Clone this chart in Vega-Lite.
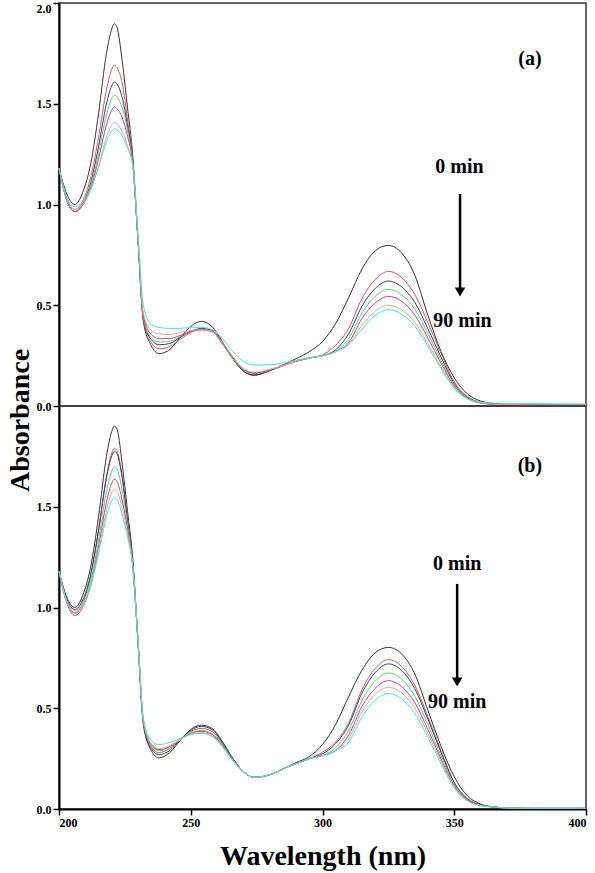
{
"$schema": "https://vega.github.io/schema/vega-lite/v6.json",
"background": "white",
"padding": {"left": 5, "top": 1, "right": 0, "bottom": 0},
"spacing": 0,
"bounds": "flush",
"config": {
 "view": {"stroke": "#333333", "strokeWidth": 1.5},
 "axis": {"labelFont": "Liberation Serif", "labelFontWeight": "bold", "labelFontSize": 12, "labelColor": "black", "titleFont": "Liberation Serif", "titleFontWeight": "bold", "titleFontSize": 28, "titleColor": "black", "domainColor": "black", "domainWidth": 2, "tickColor": "black", "tickWidth": 1.5, "tickSize": 6, "labelPadding": 2, "grid": false},
 "line": {"strokeWidth": 1, "interpolate": "monotone"},
 "text": {"font": "Liberation Serif", "fontWeight": "bold", "fontSize": 20, "color": "black"}
},
"datasets": {
"specA": [
{"t":0,"w":200,"a":1.18},{"t":0,"w":203,"a":1.05},{"t":0,"w":206,"a":1.0},{"t":0,"w":209,"a":1.06},{"t":0,"w":212,"a":1.2},{"t":0,"w":215,"a":1.45},{"t":0,"w":218,"a":1.75},{"t":0,"w":220,"a":1.87},{"t":0,"w":221,"a":1.897},{"t":0,"w":222,"a":1.88},{"t":0,"w":224,"a":1.71},{"t":0,"w":226,"a":1.48},{"t":0,"w":228,"a":1.24},{"t":0,"w":230,"a":0.82},{"t":0,"w":232,"a":0.42},{"t":0,"w":235,"a":0.3},{"t":0,"w":238,"a":0.26},{"t":0,"w":242,"a":0.28},{"t":0,"w":246,"a":0.34},{"t":0,"w":250,"a":0.395},{"t":0,"w":254,"a":0.42},{"t":0,"w":258,"a":0.395},{"t":0,"w":262,"a":0.32},{"t":0,"w":266,"a":0.235},{"t":0,"w":270,"a":0.172},{"t":0,"w":274,"a":0.152},{"t":0,"w":280,"a":0.175},{"t":0,"w":286,"a":0.21},{"t":0,"w":290,"a":0.235},{"t":0,"w":295,"a":0.27},{"t":0,"w":300,"a":0.32},{"t":0,"w":305,"a":0.41},{"t":0,"w":310,"a":0.54},{"t":0,"w":315,"a":0.68},{"t":0,"w":320,"a":0.77},{"t":0,"w":325,"a":0.797},{"t":0,"w":330,"a":0.76},{"t":0,"w":335,"a":0.65},{"t":0,"w":340,"a":0.45},{"t":0,"w":345,"a":0.27},{"t":0,"w":350,"a":0.14},{"t":0,"w":355,"a":0.06},{"t":0,"w":360,"a":0.025},{"t":0,"w":365,"a":0.012},{"t":0,"w":370,"a":0.008},{"t":0,"w":380,"a":0.005},{"t":0,"w":400,"a":0.005},
{"t":15,"w":200,"a":1.18},{"t":15,"w":203,"a":1.03},{"t":15,"w":206,"a":0.975},{"t":15,"w":209,"a":1.018},{"t":15,"w":212,"a":1.133},{"t":15,"w":215,"a":1.333},{"t":15,"w":218,"a":1.569},{"t":15,"w":220,"a":1.67},{"t":15,"w":221,"a":1.691},{"t":15,"w":222,"a":1.68},{"t":15,"w":224,"a":1.6},{"t":15,"w":226,"a":1.42},{"t":15,"w":228,"a":1.22},{"t":15,"w":230,"a":0.82},{"t":15,"w":232,"a":0.43},{"t":15,"w":235,"a":0.315},{"t":15,"w":238,"a":0.284},{"t":15,"w":242,"a":0.295},{"t":15,"w":246,"a":0.33},{"t":15,"w":250,"a":0.365},{"t":15,"w":254,"a":0.38},{"t":15,"w":258,"a":0.37},{"t":15,"w":262,"a":0.31},{"t":15,"w":266,"a":0.235},{"t":15,"w":270,"a":0.18},{"t":15,"w":274,"a":0.165},{"t":15,"w":280,"a":0.18},{"t":15,"w":286,"a":0.205},{"t":15,"w":290,"a":0.222},{"t":15,"w":295,"a":0.238},{"t":15,"w":300,"a":0.254},{"t":15,"w":305,"a":0.301},{"t":15,"w":310,"a":0.387},{"t":15,"w":315,"a":0.534},{"t":15,"w":320,"a":0.628},{"t":15,"w":325,"a":0.668},{"t":15,"w":330,"a":0.638},{"t":15,"w":335,"a":0.554},{"t":15,"w":340,"a":0.414},{"t":15,"w":345,"a":0.261},{"t":15,"w":350,"a":0.12},{"t":15,"w":355,"a":0.047},{"t":15,"w":360,"a":0.019},{"t":15,"w":365,"a":0.01},{"t":15,"w":370,"a":0.006},{"t":15,"w":380,"a":0.005},{"t":15,"w":400,"a":0.005},
{"t":30,"w":200,"a":1.18},{"t":30,"w":203,"a":1.02},{"t":30,"w":206,"a":0.965},{"t":30,"w":209,"a":1.004},{"t":30,"w":212,"a":1.106},{"t":30,"w":215,"a":1.287},{"t":30,"w":218,"a":1.499},{"t":30,"w":220,"a":1.589},{"t":30,"w":221,"a":1.608},{"t":30,"w":222,"a":1.598},{"t":30,"w":224,"a":1.53},{"t":30,"w":226,"a":1.39},{"t":30,"w":228,"a":1.21},{"t":30,"w":230,"a":0.82},{"t":30,"w":232,"a":0.435},{"t":30,"w":235,"a":0.33},{"t":30,"w":238,"a":0.304},{"t":30,"w":242,"a":0.31},{"t":30,"w":246,"a":0.34},{"t":30,"w":250,"a":0.37},{"t":30,"w":254,"a":0.385},{"t":30,"w":258,"a":0.375},{"t":30,"w":262,"a":0.315},{"t":30,"w":266,"a":0.235},{"t":30,"w":270,"a":0.175},{"t":30,"w":274,"a":0.155},{"t":30,"w":280,"a":0.175},{"t":30,"w":286,"a":0.205},{"t":30,"w":290,"a":0.222},{"t":30,"w":295,"a":0.238},{"t":30,"w":300,"a":0.25},{"t":30,"w":305,"a":0.279},{"t":30,"w":310,"a":0.36},{"t":30,"w":315,"a":0.496},{"t":30,"w":320,"a":0.583},{"t":30,"w":325,"a":0.62},{"t":30,"w":330,"a":0.592},{"t":30,"w":335,"a":0.515},{"t":30,"w":340,"a":0.384},{"t":30,"w":345,"a":0.242},{"t":30,"w":350,"a":0.112},{"t":30,"w":355,"a":0.043},{"t":30,"w":360,"a":0.017},{"t":30,"w":365,"a":0.009},{"t":30,"w":370,"a":0.006},{"t":30,"w":380,"a":0.005},{"t":30,"w":400,"a":0.005},
{"t":45,"w":200,"a":1.18},{"t":45,"w":203,"a":1.02},{"t":45,"w":206,"a":0.965},{"t":45,"w":209,"a":1.0},{"t":45,"w":212,"a":1.092},{"t":45,"w":215,"a":1.254},{"t":45,"w":218,"a":1.444},{"t":45,"w":220,"a":1.525},{"t":45,"w":221,"a":1.542},{"t":45,"w":222,"a":1.533},{"t":45,"w":224,"a":1.48},{"t":45,"w":226,"a":1.37},{"t":45,"w":228,"a":1.2},{"t":45,"w":230,"a":0.82},{"t":45,"w":232,"a":0.44},{"t":45,"w":235,"a":0.34},{"t":45,"w":238,"a":0.318},{"t":45,"w":242,"a":0.32},{"t":45,"w":246,"a":0.345},{"t":45,"w":250,"a":0.37},{"t":45,"w":254,"a":0.38},{"t":45,"w":258,"a":0.37},{"t":45,"w":262,"a":0.31},{"t":45,"w":266,"a":0.235},{"t":45,"w":270,"a":0.18},{"t":45,"w":274,"a":0.16},{"t":45,"w":280,"a":0.178},{"t":45,"w":286,"a":0.205},{"t":45,"w":290,"a":0.222},{"t":45,"w":295,"a":0.238},{"t":45,"w":300,"a":0.25},{"t":45,"w":305,"a":0.27},{"t":45,"w":310,"a":0.336},{"t":45,"w":315,"a":0.463},{"t":45,"w":320,"a":0.544},{"t":45,"w":325,"a":0.579},{"t":45,"w":330,"a":0.553},{"t":45,"w":335,"a":0.481},{"t":45,"w":340,"a":0.359},{"t":45,"w":345,"a":0.226},{"t":45,"w":350,"a":0.104},{"t":45,"w":355,"a":0.041},{"t":45,"w":360,"a":0.016},{"t":45,"w":365,"a":0.009},{"t":45,"w":370,"a":0.006},{"t":45,"w":380,"a":0.005},{"t":45,"w":400,"a":0.005},
{"t":60,"w":200,"a":1.18},{"t":60,"w":203,"a":1.02},{"t":60,"w":206,"a":0.965},{"t":60,"w":209,"a":0.996},{"t":60,"w":212,"a":1.079},{"t":60,"w":215,"a":1.225},{"t":60,"w":218,"a":1.396},{"t":60,"w":220,"a":1.468},{"t":60,"w":221,"a":1.484},{"t":60,"w":222,"a":1.476},{"t":60,"w":224,"a":1.43},{"t":60,"w":226,"a":1.34},{"t":60,"w":228,"a":1.2},{"t":60,"w":230,"a":0.82},{"t":60,"w":232,"a":0.45},{"t":60,"w":235,"a":0.355},{"t":60,"w":238,"a":0.334},{"t":60,"w":242,"a":0.335},{"t":60,"w":246,"a":0.35},{"t":60,"w":250,"a":0.37},{"t":60,"w":254,"a":0.378},{"t":60,"w":258,"a":0.37},{"t":60,"w":262,"a":0.31},{"t":60,"w":266,"a":0.24},{"t":60,"w":270,"a":0.182},{"t":60,"w":274,"a":0.163},{"t":60,"w":280,"a":0.18},{"t":60,"w":286,"a":0.205},{"t":60,"w":290,"a":0.222},{"t":60,"w":295,"a":0.238},{"t":60,"w":300,"a":0.25},{"t":60,"w":305,"a":0.27},{"t":60,"w":310,"a":0.316},{"t":60,"w":315,"a":0.435},{"t":60,"w":320,"a":0.511},{"t":60,"w":325,"a":0.544},{"t":60,"w":330,"a":0.52},{"t":60,"w":335,"a":0.452},{"t":60,"w":340,"a":0.337},{"t":60,"w":345,"a":0.212},{"t":60,"w":350,"a":0.098},{"t":60,"w":355,"a":0.038},{"t":60,"w":360,"a":0.015},{"t":60,"w":365,"a":0.009},{"t":60,"w":370,"a":0.006},{"t":60,"w":380,"a":0.005},{"t":60,"w":400,"a":0.005},
{"t":75,"w":200,"a":1.18},{"t":75,"w":203,"a":1.025},{"t":75,"w":206,"a":0.975},{"t":75,"w":209,"a":1.001},{"t":75,"w":212,"a":1.07},{"t":75,"w":215,"a":1.19},{"t":75,"w":218,"a":1.333},{"t":75,"w":220,"a":1.393},{"t":75,"w":221,"a":1.406},{"t":75,"w":222,"a":1.4},{"t":75,"w":224,"a":1.36},{"t":75,"w":226,"a":1.29},{"t":75,"w":228,"a":1.19},{"t":75,"w":230,"a":0.83},{"t":75,"w":232,"a":0.46},{"t":75,"w":235,"a":0.375},{"t":75,"w":238,"a":0.358},{"t":75,"w":242,"a":0.355},{"t":75,"w":246,"a":0.365},{"t":75,"w":250,"a":0.375},{"t":75,"w":254,"a":0.378},{"t":75,"w":258,"a":0.37},{"t":75,"w":262,"a":0.315},{"t":75,"w":266,"a":0.245},{"t":75,"w":270,"a":0.185},{"t":75,"w":274,"a":0.168},{"t":75,"w":280,"a":0.182},{"t":75,"w":286,"a":0.205},{"t":75,"w":290,"a":0.222},{"t":75,"w":295,"a":0.238},{"t":75,"w":300,"a":0.25},{"t":75,"w":305,"a":0.27},{"t":75,"w":310,"a":0.31},{"t":75,"w":315,"a":0.4},{"t":75,"w":320,"a":0.47},{"t":75,"w":325,"a":0.5},{"t":75,"w":330,"a":0.478},{"t":75,"w":335,"a":0.415},{"t":75,"w":340,"a":0.31},{"t":75,"w":345,"a":0.195},{"t":75,"w":350,"a":0.09},{"t":75,"w":355,"a":0.035},{"t":75,"w":360,"a":0.014},{"t":75,"w":365,"a":0.009},{"t":75,"w":370,"a":0.006},{"t":75,"w":380,"a":0.005},{"t":75,"w":400,"a":0.005},
{"t":90,"w":200,"a":1.18},{"t":90,"w":203,"a":1.035},{"t":90,"w":206,"a":0.99},{"t":90,"w":209,"a":1.013},{"t":90,"w":212,"a":1.075},{"t":90,"w":215,"a":1.183},{"t":90,"w":218,"a":1.31},{"t":90,"w":220,"a":1.364},{"t":90,"w":221,"a":1.376},{"t":90,"w":222,"a":1.37},{"t":90,"w":224,"a":1.34},{"t":90,"w":226,"a":1.28},{"t":90,"w":228,"a":1.2},{"t":90,"w":230,"a":0.86},{"t":90,"w":232,"a":0.5},{"t":90,"w":235,"a":0.405},{"t":90,"w":238,"a":0.39},{"t":90,"w":242,"a":0.385},{"t":90,"w":246,"a":0.385},{"t":90,"w":250,"a":0.39},{"t":90,"w":254,"a":0.39},{"t":90,"w":258,"a":0.38},{"t":90,"w":262,"a":0.335},{"t":90,"w":266,"a":0.27},{"t":90,"w":270,"a":0.22},{"t":90,"w":274,"a":0.203},{"t":90,"w":280,"a":0.205},{"t":90,"w":286,"a":0.215},{"t":90,"w":290,"a":0.228},{"t":90,"w":295,"a":0.24},{"t":90,"w":300,"a":0.25},{"t":90,"w":305,"a":0.27},{"t":90,"w":310,"a":0.305},{"t":90,"w":315,"a":0.382},{"t":90,"w":320,"a":0.449},{"t":90,"w":325,"a":0.478},{"t":90,"w":330,"a":0.456},{"t":90,"w":335,"a":0.397},{"t":90,"w":340,"a":0.296},{"t":90,"w":345,"a":0.186},{"t":90,"w":350,"a":0.086},{"t":90,"w":355,"a":0.036},{"t":90,"w":360,"a":0.02},{"t":90,"w":365,"a":0.015},{"t":90,"w":370,"a":0.013},{"t":90,"w":380,"a":0.012},{"t":90,"w":400,"a":0.01}
],
"specB": [
{"t":0,"w":200,"a":1.18},{"t":0,"w":203,"a":1.05},{"t":0,"w":206,"a":1.0},{"t":0,"w":209,"a":1.06},{"t":0,"w":212,"a":1.2},{"t":0,"w":215,"a":1.45},{"t":0,"w":218,"a":1.75},{"t":0,"w":220,"a":1.873},{"t":0,"w":221,"a":1.9},{"t":0,"w":222,"a":1.886},{"t":0,"w":224,"a":1.71},{"t":0,"w":226,"a":1.48},{"t":0,"w":228,"a":1.24},{"t":0,"w":230,"a":0.82},{"t":0,"w":232,"a":0.42},{"t":0,"w":235,"a":0.29},{"t":0,"w":238,"a":0.254},{"t":0,"w":242,"a":0.28},{"t":0,"w":246,"a":0.34},{"t":0,"w":250,"a":0.395},{"t":0,"w":254,"a":0.416},{"t":0,"w":258,"a":0.4},{"t":0,"w":262,"a":0.335},{"t":0,"w":266,"a":0.25},{"t":0,"w":270,"a":0.185},{"t":0,"w":274,"a":0.157},{"t":0,"w":280,"a":0.17},{"t":0,"w":286,"a":0.205},{"t":0,"w":290,"a":0.23},{"t":0,"w":295,"a":0.26},{"t":0,"w":300,"a":0.32},{"t":0,"w":305,"a":0.42},{"t":0,"w":310,"a":0.56},{"t":0,"w":315,"a":0.69},{"t":0,"w":320,"a":0.775},{"t":0,"w":325,"a":0.802},{"t":0,"w":330,"a":0.77},{"t":0,"w":335,"a":0.67},{"t":0,"w":340,"a":0.49},{"t":0,"w":345,"a":0.31},{"t":0,"w":350,"a":0.16},{"t":0,"w":355,"a":0.065},{"t":0,"w":360,"a":0.025},{"t":0,"w":365,"a":0.01},{"t":0,"w":370,"a":0.005},{"t":0,"w":380,"a":0.003},{"t":0,"w":400,"a":0.003},
{"t":15,"w":200,"a":1.18},{"t":15,"w":203,"a":1.03},{"t":15,"w":206,"a":0.975},{"t":15,"w":209,"a":1.024},{"t":15,"w":212,"a":1.154},{"t":15,"w":215,"a":1.383},{"t":15,"w":218,"a":1.651},{"t":15,"w":220,"a":1.766},{"t":15,"w":221,"a":1.79},{"t":15,"w":222,"a":1.778},{"t":15,"w":224,"a":1.65},{"t":15,"w":226,"a":1.44},{"t":15,"w":228,"a":1.22},{"t":15,"w":230,"a":0.83},{"t":15,"w":232,"a":0.43},{"t":15,"w":235,"a":0.31},{"t":15,"w":238,"a":0.28},{"t":15,"w":242,"a":0.3},{"t":15,"w":246,"a":0.345},{"t":15,"w":250,"a":0.385},{"t":15,"w":254,"a":0.4},{"t":15,"w":258,"a":0.385},{"t":15,"w":262,"a":0.325},{"t":15,"w":266,"a":0.245},{"t":15,"w":270,"a":0.185},{"t":15,"w":274,"a":0.157},{"t":15,"w":280,"a":0.17},{"t":15,"w":286,"a":0.205},{"t":15,"w":290,"a":0.225},{"t":15,"w":295,"a":0.25},{"t":15,"w":300,"a":0.282},{"t":15,"w":305,"a":0.333},{"t":15,"w":310,"a":0.43},{"t":15,"w":315,"a":0.593},{"t":15,"w":320,"a":0.697},{"t":15,"w":325,"a":0.741},{"t":15,"w":330,"a":0.708},{"t":15,"w":335,"a":0.615},{"t":15,"w":340,"a":0.459},{"t":15,"w":345,"a":0.289},{"t":15,"w":350,"a":0.133},{"t":15,"w":355,"a":0.052},{"t":15,"w":360,"a":0.021},{"t":15,"w":365,"a":0.01},{"t":15,"w":370,"a":0.005},{"t":15,"w":380,"a":0.003},{"t":15,"w":400,"a":0.003},
{"t":30,"w":200,"a":1.18},{"t":30,"w":203,"a":1.04},{"t":30,"w":206,"a":0.99},{"t":30,"w":209,"a":1.037},{"t":30,"w":212,"a":1.163},{"t":30,"w":215,"a":1.383},{"t":30,"w":218,"a":1.642},{"t":30,"w":220,"a":1.751},{"t":30,"w":221,"a":1.775},{"t":30,"w":222,"a":1.763},{"t":30,"w":224,"a":1.64},{"t":30,"w":226,"a":1.43},{"t":30,"w":228,"a":1.22},{"t":30,"w":230,"a":0.83},{"t":30,"w":232,"a":0.43},{"t":30,"w":235,"a":0.3},{"t":30,"w":238,"a":0.27},{"t":30,"w":242,"a":0.29},{"t":30,"w":246,"a":0.345},{"t":30,"w":250,"a":0.39},{"t":30,"w":254,"a":0.41},{"t":30,"w":258,"a":0.395},{"t":30,"w":262,"a":0.33},{"t":30,"w":266,"a":0.25},{"t":30,"w":270,"a":0.185},{"t":30,"w":274,"a":0.157},{"t":30,"w":280,"a":0.17},{"t":30,"w":286,"a":0.205},{"t":30,"w":290,"a":0.225},{"t":30,"w":295,"a":0.25},{"t":30,"w":300,"a":0.274},{"t":30,"w":305,"a":0.324},{"t":30,"w":310,"a":0.418},{"t":30,"w":315,"a":0.576},{"t":30,"w":320,"a":0.677},{"t":30,"w":325,"a":0.72},{"t":30,"w":330,"a":0.688},{"t":30,"w":335,"a":0.598},{"t":30,"w":340,"a":0.446},{"t":30,"w":345,"a":0.281},{"t":30,"w":350,"a":0.13},{"t":30,"w":355,"a":0.05},{"t":30,"w":360,"a":0.02},{"t":30,"w":365,"a":0.01},{"t":30,"w":370,"a":0.005},{"t":30,"w":380,"a":0.003},{"t":30,"w":400,"a":0.003},
{"t":45,"w":200,"a":1.18},{"t":45,"w":203,"a":1.025},{"t":45,"w":206,"a":0.97},{"t":45,"w":209,"a":1.014},{"t":45,"w":212,"a":1.13},{"t":45,"w":215,"a":1.334},{"t":45,"w":218,"a":1.574},{"t":45,"w":220,"a":1.676},{"t":45,"w":221,"a":1.698},{"t":45,"w":222,"a":1.687},{"t":45,"w":224,"a":1.58},{"t":45,"w":226,"a":1.41},{"t":45,"w":228,"a":1.21},{"t":45,"w":230,"a":0.83},{"t":45,"w":232,"a":0.435},{"t":45,"w":235,"a":0.315},{"t":45,"w":238,"a":0.29},{"t":45,"w":242,"a":0.305},{"t":45,"w":246,"a":0.345},{"t":45,"w":250,"a":0.38},{"t":45,"w":254,"a":0.39},{"t":45,"w":258,"a":0.375},{"t":45,"w":262,"a":0.32},{"t":45,"w":266,"a":0.245},{"t":45,"w":270,"a":0.185},{"t":45,"w":274,"a":0.157},{"t":45,"w":280,"a":0.17},{"t":45,"w":286,"a":0.205},{"t":45,"w":290,"a":0.225},{"t":45,"w":295,"a":0.25},{"t":45,"w":300,"a":0.265},{"t":45,"w":305,"a":0.304},{"t":45,"w":310,"a":0.392},{"t":45,"w":315,"a":0.54},{"t":45,"w":320,"a":0.635},{"t":45,"w":325,"a":0.675},{"t":45,"w":330,"a":0.645},{"t":45,"w":335,"a":0.56},{"t":45,"w":340,"a":0.419},{"t":45,"w":345,"a":0.263},{"t":45,"w":350,"a":0.122},{"t":45,"w":355,"a":0.047},{"t":45,"w":360,"a":0.019},{"t":45,"w":365,"a":0.01},{"t":45,"w":370,"a":0.005},{"t":45,"w":380,"a":0.003},{"t":45,"w":400,"a":0.003},
{"t":60,"w":200,"a":1.18},{"t":60,"w":203,"a":1.02},{"t":60,"w":206,"a":0.96},{"t":60,"w":209,"a":1.001},{"t":60,"w":212,"a":1.109},{"t":60,"w":215,"a":1.299},{"t":60,"w":218,"a":1.522},{"t":60,"w":220,"a":1.617},{"t":60,"w":221,"a":1.637},{"t":60,"w":222,"a":1.627},{"t":60,"w":224,"a":1.53},{"t":60,"w":226,"a":1.39},{"t":60,"w":228,"a":1.2},{"t":60,"w":230,"a":0.83},{"t":60,"w":232,"a":0.44},{"t":60,"w":235,"a":0.32},{"t":60,"w":238,"a":0.295},{"t":60,"w":242,"a":0.31},{"t":60,"w":246,"a":0.345},{"t":60,"w":250,"a":0.375},{"t":60,"w":254,"a":0.385},{"t":60,"w":258,"a":0.37},{"t":60,"w":262,"a":0.315},{"t":60,"w":266,"a":0.242},{"t":60,"w":270,"a":0.185},{"t":60,"w":274,"a":0.157},{"t":60,"w":280,"a":0.17},{"t":60,"w":286,"a":0.205},{"t":60,"w":290,"a":0.225},{"t":60,"w":295,"a":0.25},{"t":60,"w":300,"a":0.265},{"t":60,"w":305,"a":0.29},{"t":60,"w":310,"a":0.369},{"t":60,"w":315,"a":0.51},{"t":60,"w":320,"a":0.599},{"t":60,"w":325,"a":0.637},{"t":60,"w":330,"a":0.608},{"t":60,"w":335,"a":0.529},{"t":60,"w":340,"a":0.395},{"t":60,"w":345,"a":0.248},{"t":60,"w":350,"a":0.115},{"t":60,"w":355,"a":0.045},{"t":60,"w":360,"a":0.018},{"t":60,"w":365,"a":0.01},{"t":60,"w":370,"a":0.005},{"t":60,"w":380,"a":0.003},{"t":60,"w":400,"a":0.003},
{"t":75,"w":200,"a":1.18},{"t":75,"w":203,"a":1.025},{"t":75,"w":206,"a":0.97},{"t":75,"w":209,"a":1.007},{"t":75,"w":212,"a":1.106},{"t":75,"w":215,"a":1.278},{"t":75,"w":218,"a":1.481},{"t":75,"w":220,"a":1.568},{"t":75,"w":221,"a":1.586},{"t":75,"w":222,"a":1.577},{"t":75,"w":224,"a":1.49},{"t":75,"w":226,"a":1.37},{"t":75,"w":228,"a":1.2},{"t":75,"w":230,"a":0.83},{"t":75,"w":232,"a":0.445},{"t":75,"w":235,"a":0.325},{"t":75,"w":238,"a":0.3},{"t":75,"w":242,"a":0.315},{"t":75,"w":246,"a":0.345},{"t":75,"w":250,"a":0.37},{"t":75,"w":254,"a":0.38},{"t":75,"w":258,"a":0.365},{"t":75,"w":262,"a":0.31},{"t":75,"w":266,"a":0.24},{"t":75,"w":270,"a":0.185},{"t":75,"w":274,"a":0.157},{"t":75,"w":280,"a":0.17},{"t":75,"w":286,"a":0.205},{"t":75,"w":290,"a":0.225},{"t":75,"w":295,"a":0.25},{"t":75,"w":300,"a":0.265},{"t":75,"w":305,"a":0.29},{"t":75,"w":310,"a":0.35},{"t":75,"w":315,"a":0.483},{"t":75,"w":320,"a":0.568},{"t":75,"w":325,"a":0.604},{"t":75,"w":330,"a":0.577},{"t":75,"w":335,"a":0.501},{"t":75,"w":340,"a":0.374},{"t":75,"w":345,"a":0.236},{"t":75,"w":350,"a":0.109},{"t":75,"w":355,"a":0.042},{"t":75,"w":360,"a":0.017},{"t":75,"w":365,"a":0.01},{"t":75,"w":370,"a":0.005},{"t":75,"w":380,"a":0.003},{"t":75,"w":400,"a":0.003},
{"t":90,"w":200,"a":1.18},{"t":90,"w":203,"a":1.035},{"t":90,"w":206,"a":0.985},{"t":90,"w":209,"a":1.019},{"t":90,"w":212,"a":1.108},{"t":90,"w":215,"a":1.265},{"t":90,"w":218,"a":1.45},{"t":90,"w":220,"a":1.528},{"t":90,"w":221,"a":1.545},{"t":90,"w":222,"a":1.537},{"t":90,"w":224,"a":1.46},{"t":90,"w":226,"a":1.35},{"t":90,"w":228,"a":1.2},{"t":90,"w":230,"a":0.84},{"t":90,"w":232,"a":0.45},{"t":90,"w":235,"a":0.34},{"t":90,"w":238,"a":0.32},{"t":90,"w":242,"a":0.33},{"t":90,"w":246,"a":0.35},{"t":90,"w":250,"a":0.37},{"t":90,"w":254,"a":0.375},{"t":90,"w":258,"a":0.36},{"t":90,"w":262,"a":0.31},{"t":90,"w":266,"a":0.24},{"t":90,"w":270,"a":0.185},{"t":90,"w":274,"a":0.157},{"t":90,"w":280,"a":0.17},{"t":90,"w":286,"a":0.205},{"t":90,"w":290,"a":0.225},{"t":90,"w":295,"a":0.25},{"t":90,"w":300,"a":0.265},{"t":90,"w":305,"a":0.29},{"t":90,"w":310,"a":0.332},{"t":90,"w":315,"a":0.458},{"t":90,"w":320,"a":0.539},{"t":90,"w":325,"a":0.573},{"t":90,"w":330,"a":0.547},{"t":90,"w":335,"a":0.476},{"t":90,"w":340,"a":0.355},{"t":90,"w":345,"a":0.223},{"t":90,"w":350,"a":0.103},{"t":90,"w":355,"a":0.04},{"t":90,"w":360,"a":0.016},{"t":90,"w":365,"a":0.01},{"t":90,"w":370,"a":0.005},{"t":90,"w":380,"a":0.003},{"t":90,"w":400,"a":0.003}
]
},
"vconcat": [
{
 "width": 527, "height": 403,
 "encoding": {
  "x": {"field": "w", "type": "quantitative", "scale": {"domain": [200, 400], "nice": false}, "axis": null},
  "y": {"field": "a", "type": "quantitative", "scale": {"domain": [0, 2], "nice": false},
        "axis": {"values": [0, 0.5, 1, 1.5, 2], "format": ".1f", "title": "Absorbance", "titleX": -31, "titleY": 417, "titleAngle": 270, "titleAlign": "center", "titleBaseline": "alphabetic",
                 "labelBaseline": {"condition": {"test": "datum.value == 2", "value": "top"}, "value": "middle"}}}
 },
 "layer": [
  {"data": {"name": "specA"}, "mark": {"type": "line"},
   "encoding": {"color": {"field": "t", "type": "nominal", "scale": {"domain": [0, 15, 30, 45, 60, 75, 90], "range": ["#333333", "#e0524f", "#2e3a8c", "#4fd65a", "#d6399a", "#f5a27a", "#3ee8e0"]}, "legend": null}}},
  {"data": {"values": [{"w": 352.0, "a": 1.186, "label": "0 min"}, {"w": 353.1, "a": 0.424, "label": "90 min"}, {"w": 378.7, "a": 1.722, "label": "(a)"}]},
   "mark": {"type": "text"}, "encoding": {"text": {"field": "label"}}},
  {"data": {"values": [{"w": 352.2, "a": 1.052, "a2": 0.58}]},
   "mark": {"type": "rule", "strokeWidth": 2.5, "color": "black"}, "encoding": {"y2": {"field": "a2"}}},
  {"data": {"values": [{"w": 352.2, "a": 0.566}]},
   "mark": {"type": "point", "shape": "triangle-down", "filled": true, "color": "black", "opacity": 1, "size": 110, "strokeWidth": 0}}
 ]
},
{
 "width": 527, "height": 403,
 "encoding": {
  "x": {"field": "w", "type": "quantitative", "scale": {"domain": [200, 400], "nice": false},
        "axis": {"values": [200, 250, 300, 350, 400], "title": "Wavelength (nm)", "titlePadding": 14}},
  "y": {"field": "a", "type": "quantitative", "scale": {"domain": [0, 2], "nice": false},
        "axis": {"values": [0, 0.5, 1, 1.5], "format": ".1f", "title": null}}
 },
 "layer": [
  {"data": {"name": "specB"}, "mark": {"type": "line"},
   "encoding": {"color": {"field": "t", "type": "nominal", "scale": {"domain": [0, 15, 30, 45, 60, 75, 90], "range": ["#333333", "#e0524f", "#2e3a8c", "#4fd65a", "#d6399a", "#f5a27a", "#3ee8e0"]}, "legend": null}}},
  {"data": {"values": [{"w": 351.1, "a": 1.216, "label": "0 min"}, {"w": 351.1, "a": 0.531, "label": "90 min"}, {"w": 378.7, "a": 1.70, "label": "(b)"}]},
   "mark": {"type": "text"}, "encoding": {"text": {"field": "label"}}},
  {"data": {"values": [{"w": 351.1, "a": 1.117, "a2": 0.645}]},
   "mark": {"type": "rule", "strokeWidth": 2.5, "color": "black"}, "encoding": {"y2": {"field": "a2"}}},
  {"data": {"values": [{"w": 351.1, "a": 0.63}]},
   "mark": {"type": "point", "shape": "triangle-down", "filled": true, "color": "black", "opacity": 1, "size": 110, "strokeWidth": 0}}
 ]
}
]
}
